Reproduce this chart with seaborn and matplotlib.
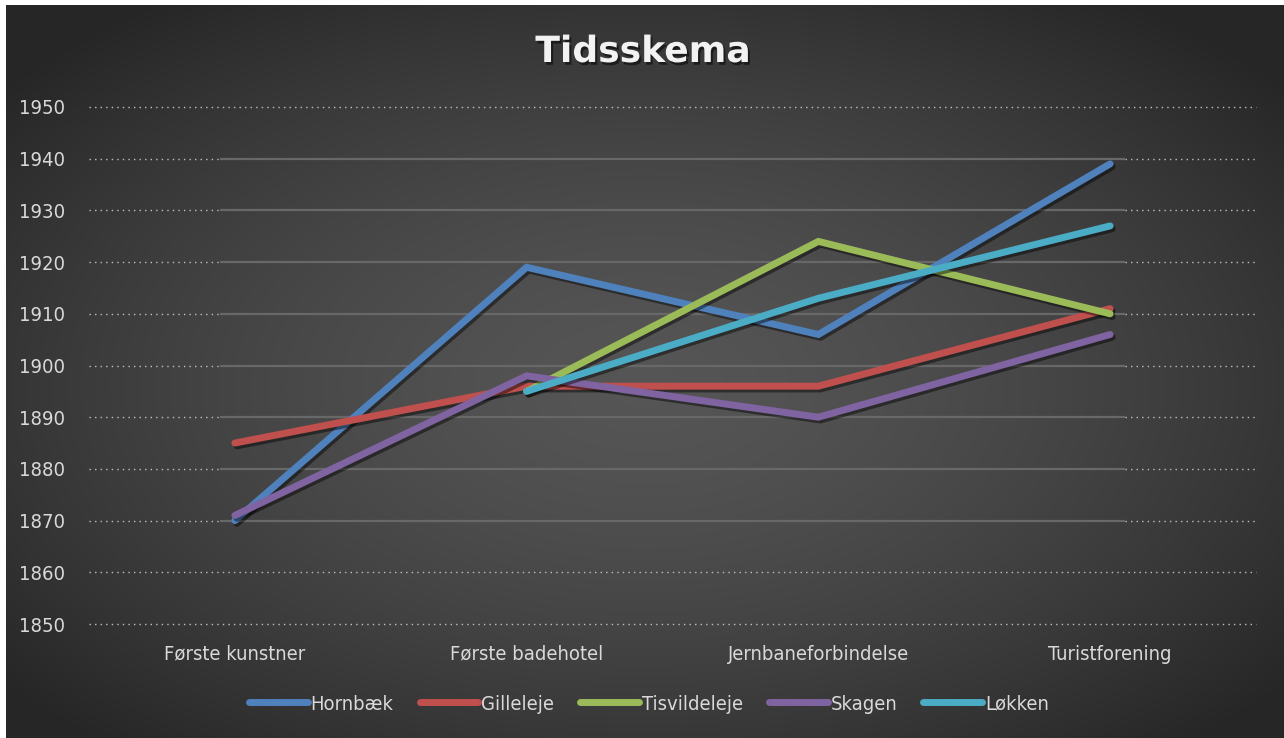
import numpy as np
import pandas as pd
import matplotlib
matplotlib.use("Agg")
import matplotlib.pyplot as plt
import matplotlib.patheffects as pe
from matplotlib import font_manager as fm
import seaborn as sns

categories = ["Første kunstner", "Første badehotel", "Jernbaneforbindelse", "Turistforening"]
hornbaek = [1870, 1919, 1906, 1939]
gilleleje = [1885, 1896, 1896, 1911]
tisvildeleje = [np.nan, 1895, 1924, 1910]
skagen = [1871, 1898, 1890, 1906]
lokken = [np.nan, 1895, 1913, 1927]
series_names = ["Hornbæk", "Gilleleje", "Tisvildeleje", "Skagen", "Løkken"]
colors = ["#4F81BD", "#C0504D", "#9BBB59", "#8064A2", "#4BACC6"]
y_ticks = list(range(1850, 1951, 10))

sns.set_theme(style="dark")
names = {f.name for f in fm.fontManager.ttflist}
if "Liberation Sans Narrow" in names:
    label_font = ["Liberation Sans Narrow", "DejaVu Sans"]
    fs = 17
    stretch = "normal"
else:
    label_font = ["DejaVu Sans"]
    fs = 14.5
    stretch = "condensed"
plt.rcParams["font.family"] = label_font

rows = []
for name, vals in zip(series_names, [hornbaek, gilleleje, tisvildeleje, skagen, lokken]):
    for i, v in enumerate(vals):
        rows.append({"serie": name, "pos": i, "year": v})
df = pd.DataFrame(rows).dropna()

W, H = 1284, 738
fig = plt.figure(figsize=(W / 100, H / 100), dpi=100)
fig.patch.set_facecolor("white")

# radial gradient background
bg = fig.add_axes([6 / W, 0, 1 - 6 / W, 1 - 5 / H])
yy, xx = np.mgrid[0:1:400j, 0:1:700j]
r = np.sqrt(((xx - 0.5) / 0.65) ** 2 + ((yy - 0.52) / 0.65) ** 2)
r = np.clip(r, 0, 1)
val = 0.335 - (0.335 - 0.15) * r ** 1.5
img = np.dstack([val, val, val])
bg.imshow(img, aspect="auto", extent=[0, 1, 0, 1], interpolation="bicubic")
bg.set_axis_off()

ax = fig.add_axes([89 / W, 1 - 624 / H, (1256 - 89) / W, (624 - 107) / H])
ax.set_facecolor("none")

# gridlines: solid inside the category span, dotted outside
dot = (0, (1, 3))
for y in y_ticks:
    if y in (1850, 1860, 1950):
        ax.hlines(y, -0.5, 3.5, colors="#c0c0c0", linestyles=dot, linewidth=1.0, zorder=1, clip_on=False)
    else:
        ax.hlines(y, -0.05, 3.05, colors="#686868", linewidth=1.6, zorder=1)
        ax.hlines(y, -0.5, -0.05, colors="#c0c0c0", linestyles=dot, linewidth=1.0, zorder=1)
        ax.hlines(y, 3.05, 3.5, colors="#c0c0c0", linestyles=dot, linewidth=1.0, zorder=1)

sns.lineplot(data=df, x="pos", y="year", hue="serie", hue_order=series_names,
             palette=colors, linewidth=5, sort=False, estimator=None, ax=ax, legend=False)
for line in ax.get_lines():
    line.set_solid_capstyle("round")
    line.set_solid_joinstyle("miter")
    line.set_zorder(3)
    line.set_path_effects([pe.SimpleLineShadow(offset=(1.5, -2), shadow_color="black", alpha=0.45),
                           pe.Normal()])

ax.set_xlim(-0.5, 3.5)
ax.set_ylim(1850, 1950)
ax.set_xticks(range(len(categories)))
ax.set_xticklabels(categories)
ax.set_yticks(y_ticks)
ax.set_xlabel("")
ax.set_ylabel("")
ax.tick_params(axis="both", length=0, labelsize=fs, labelcolor="#d9d9d9")
ax.tick_params(axis="y", pad=17)
ax.tick_params(axis="x", pad=15)
for lab in ax.get_xticklabels() + ax.get_yticklabels():
    lab.set_fontstretch(stretch)
for s in ax.spines.values():
    s.set_visible(False)
ax.grid(False)

handles = [plt.Line2D([], [], color=c, linewidth=5, solid_capstyle="round") for c in colors]
leg = fig.legend(handles, series_names, loc="center", bbox_to_anchor=(649 / W, 1 - 704 / H),
                 ncol=5, frameon=False, fontsize=fs, handlelength=2.9, handletextpad=0.15,
                 columnspacing=1.3, labelcolor="#d9d9d9")
for t in leg.get_texts():
    t.set_fontstretch(stretch)

fig.text(643 / W, 1 - 52 / H, "Tidsskema", ha="center", va="center", fontsize=26,
         fontweight="bold", color="#f2f2f2", family=["DejaVu Sans"],
         path_effects=[pe.withSimplePatchShadow(offset=(1.5, -2), shadow_rgbFace="black", alpha=0.5)])

fig.savefig("out.png", dpi=100)
